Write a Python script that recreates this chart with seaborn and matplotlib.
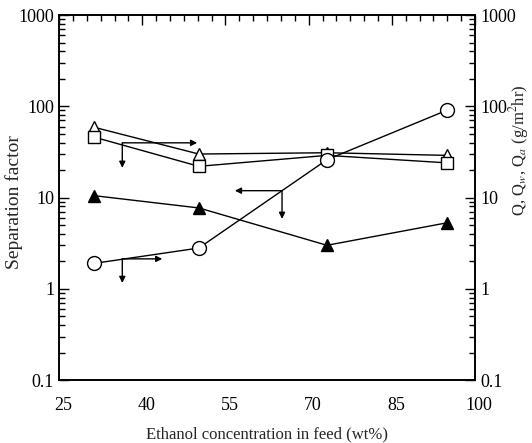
import matplotlib
matplotlib.use("Agg")
import matplotlib.pyplot as plt
import matplotlib.transforms as mtransforms
import seaborn as sns
import pandas as pd
import numpy as np
from matplotlib.ticker import LogLocator, FixedLocator, NullFormatter

# ---- data ----
ethanol = [31.3, 50.2, 73.3, 95.0]
q_open_tri = [59, 30, 31, 29]        # open triangles
q_square = [46, 22, 29, 24]          # open squares
sep_filled_tri = [10.5, 7.7, 3.0, 5.3]  # filled triangles
circle = [1.9, 2.8, 26, 91]          # open circles

x_ticks = [25, 40, 55, 70, 85, 100]
y_ticks = [0.1, 1, 10, 100, 1000]
y_labels = ["0.1", "1", "10", "100", "1000"]

# arrow annotations: (x_start, y_start, x_end, y_end)
arrows = [
    (36.4, 39.8, 49.9, 39.8),
    (36.4, 39.8, 36.4, 21.2),
    (36.4, 2.13, 43.6, 2.13),
    (36.4, 2.13, 36.4, 1.16),
    (65.2, 11.9, 56.7, 11.9),
    (65.2, 11.9, 65.2, 5.85),
]

sns.set_theme(style="white")
plt.rcParams['font.family'] = ['Liberation Serif', 'DejaVu Serif']
plt.rcParams['mathtext.fontset'] = 'stix'

fig = plt.figure(figsize=(5.32, 4.43), dpi=100)
ax = fig.add_axes([0.111, 0.142, 0.782, 0.824])

series = [
    (q_open_tri, "^", "white"),
    (q_square, "s", "white"),
    (sep_filled_tri, "^", "black"),
    (circle, "o", "white"),
]
for vals, mk, fc in series:
    df = pd.DataFrame({"x": ethanol, "y": vals})
    ms = 10 if mk == "o" else 8.5
    sns.lineplot(data=df, x="x", y="y", ax=ax, color="black", linewidth=1.0,
                 marker=mk, markersize=ms, markerfacecolor=fc,
                 markeredgecolor="black", markeredgewidth=1.0)

for x0, y0, x1, y1 in arrows:
    ax.annotate("", xy=(x1, y1), xytext=(x0, y0),
                arrowprops=dict(arrowstyle="-|>", color="black", lw=1.0,
                                mutation_scale=9, shrinkA=0, shrinkB=0))

ax.set_yscale("log")
ax.set_xlim(25, 100)
ax.set_ylim(0.1, 1000)
ax.set_xticks(x_ticks)
ax.set_xticklabels([str(t) for t in x_ticks])
ax.xaxis.set_minor_locator(FixedLocator(np.arange(25, 100.1, 2.5)))
ax.set_yticks(y_ticks)
ax.set_yticklabels(y_labels)
ax.yaxis.set_minor_locator(LogLocator(base=10, subs=np.arange(2, 10), numticks=20))
ax.yaxis.set_minor_formatter(NullFormatter())

ax.set_xlabel("Ethanol concentration in feed (wt%)", fontsize=12, labelpad=9)
ax.set_ylabel("")
fig.text(0.026, 0.545, "Separation factor", fontsize=14, rotation=90,
         ha="center", va="center")

ax.tick_params(axis="both", which="both", direction="in", top=True, right=False,
               labelsize=13, colors="black")
ax.tick_params(axis="both", which="major", length=7, width=1)
ax.tick_params(axis="both", which="minor", length=4, width=1)
ax.tick_params(axis="x", pad=12)

offset = mtransforms.ScaledTranslation(0.04, 0, fig.dpi_scale_trans)
for lab in ax.get_xticklabels():
    lab.set_transform(lab.get_transform() + offset)

ax2 = ax.twinx()
ax2.set_yscale("log")
ax2.set_ylim(0.1, 1000)
ax2.set_yticks(y_ticks)
ax2.set_yticklabels(y_labels)
ax2.yaxis.set_minor_locator(LogLocator(base=10, subs=np.arange(2, 10), numticks=20))
ax2.yaxis.set_minor_formatter(NullFormatter())
ax2.tick_params(axis="y", which="both", direction="in", labelsize=13, colors="black")
ax2.tick_params(axis="y", which="major", length=7, width=1)
ax2.tick_params(axis="y", which="minor", length=4, width=1)

fig.text(0.975, 0.66, "Q, Q$_w$, Q$_a$ (g/m$^2$hr)", fontsize=12, rotation=90,
         ha="center", va="center")

for a in (ax, ax2):
    for s in a.spines.values():
        s.set_color("black")
        s.set_linewidth(1.2)

fig.savefig("out.png", dpi=100, facecolor="white")
